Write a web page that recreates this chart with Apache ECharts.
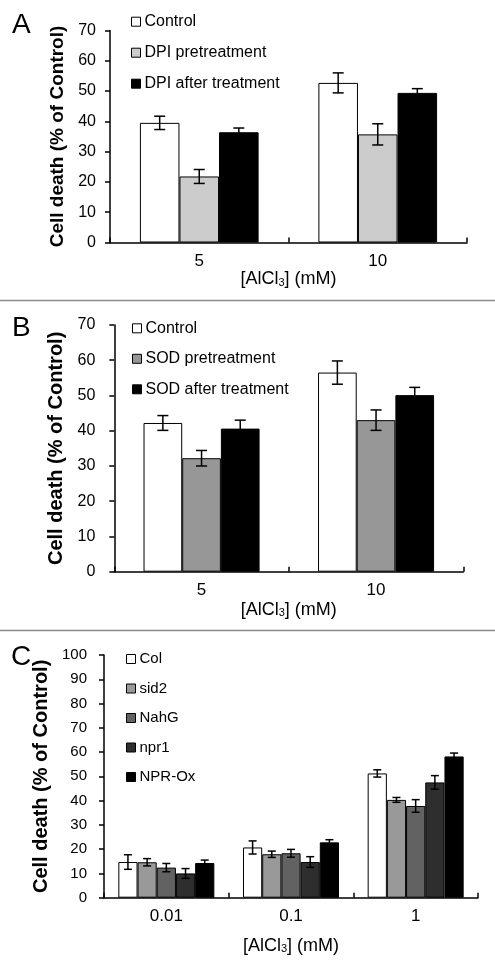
<!DOCTYPE html>
<html>
<head>
<meta charset="utf-8">
<script src="https://cdn.jsdelivr.net/npm/echarts@6/dist/echarts.min.js"></script>
<style>html,body{margin:0;padding:0;background:#fff;}#c{width:495px;height:973px;}</style>
</head>
<body>
<div id="c"></div>
<script>
// ---- Panel A data ----
const catsA = ['5', '10'];
const namesA = ['Control', 'DPI pretreatment', 'DPI after treatment'];
const aControl = [39.5, 52.7];
const aControlErr = [2.2, 3.3];
const aPre = [21.8, 35.7];
const aPreErr = [2.3, 3.5];
const aAfter = [36.4, 49.4];
const aAfterErr = [1.4, 1.4];

// ---- Panel B data ----
const catsB = ['5', '10'];
const namesB = ['Control', 'SOD pretreatment', 'SOD after treatment'];
const bControl = [42.2, 56.5];
const bControlErr = [2.1, 3.3];
const bPre = [32.2, 43.0];
const bPreErr = [2.2, 2.9];
const bAfter = [40.6, 50.1];
const bAfterErr = [2.4, 2.2];

// ---- Panel C data ----
const catsC = ['0.01', '0.1', '1'];
const namesC = ['Col', 'sid2', 'NahG', 'npr1', 'NPR-Ox'];
const cCol = [14.7, 20.7, 51.2];
const cColErr = [3.0, 2.7, 1.5];
const cSid2 = [14.6, 17.9, 40.3];
const cSid2Err = [1.5, 1.3, 1.0];
const cNahG = [12.4, 18.3, 37.8];
const cNahGErr = [1.7, 1.6, 2.6];
const cNpr1 = [10.0, 14.7, 47.5];
const cNpr1Err = [2.0, 2.2, 2.8];
const cNprOx = [14.3, 22.8, 58.2];
const cNprOxErr = [1.2, 1.1, 1.4];

// tick values
const yMaxAB = 70, yMaxC = 100, yStep = 10;

const FONT = "'Liberation Sans', Arial, sans-serif";

function barSeries(idx, name, data, color, gap) {
  return {
    type: 'bar', name: name, xAxisIndex: idx, yAxisIndex: idx, data: data,
    barGap: '0%', barCategoryGap: gap,
    itemStyle: { color: color, borderColor: '#000', borderWidth: 1 },
    silent: true
  };
}
function errSeries(idx, vals, errs, si, n, gapFrac, cap) {
  return {
    type: 'custom', xAxisIndex: idx, yAxisIndex: idx, silent: true, z: 10,
    encode: { x: 0, y: 1 },
    data: vals.map((v, i) => [i, v, errs[i]]),
    renderItem: function (params, api) {
      const x = api.value(0), y = api.value(1), e = api.value(2);
      const band = api.size([1, 0])[0];
      const group = band * (1 - gapFrac);
      const bw = group / n;
      const c = api.coord([x, y]);
      const cx = c[0] - group / 2 + bw * (si + 0.5);
      const t = api.coord([x, y + e])[1];
      const b = api.coord([x, y - e])[1];
      const st = { stroke: '#000', lineWidth: 1.5 };
      return { type: 'group', children: [
        { type: 'line', shape: { x1: cx, y1: t, x2: cx, y2: b }, style: st },
        { type: 'line', shape: { x1: cx - cap / 2, y1: t, x2: cx + cap / 2, y2: t }, style: st },
        { type: 'line', shape: { x1: cx - cap / 2, y1: b, x2: cx + cap / 2, y2: b }, style: st }
      ]};
    }
  };
}
function xAx(idx, cats, nameGap) {
  return {
    type: 'category', gridIndex: idx, data: cats,
    axisLine: { lineStyle: { color: '#000', width: 1.5 } },
    axisTick: { show: true, inside: true, length: 5, alignWithLabel: false, lineStyle: { color: '#000', width: 1.5 } },
    axisLabel: { fontSize: 17, color: '#000', fontFamily: FONT, margin: 10 },
    name: '[AlCl{s|3}] (mM)', nameLocation: 'middle', nameGap: nameGap,
    nameTextStyle: { fontSize: 18, color: '#000', fontFamily: FONT, lineHeight: 18,
      rich: { s: { fontSize: 11, fontFamily: FONT, color: '#000', padding: [7, 0, 0, 0] } } }
  };
}
function yAx(idx, max, nameSize, nameGap, labelSize, margin) {
  return {
    type: 'value', gridIndex: idx, min: 0, max: max, interval: yStep,
    axisLine: { show: true, lineStyle: { color: '#000', width: 1.5 } },
    axisTick: { show: true, inside: false, length: 5, lineStyle: { color: '#000', width: 1.5 } },
    splitLine: { show: false },
    axisLabel: { fontSize: labelSize, color: '#000', fontFamily: FONT, margin: margin },
    name: 'Cell death (% of Control)', nameLocation: 'middle', nameGap: nameGap,
    nameTextStyle: { fontSize: nameSize, fontWeight: 'bold', color: '#000', fontFamily: FONT }
  };
}
function legendCfg(names, left, top, fontSize, gap) {
  return {
    data: names, orient: 'vertical', left: left, top: top, padding: 0,
    itemWidth: 9, itemHeight: 9, itemGap: gap, icon: 'rect',
    itemStyle: { borderColor: '#000', borderWidth: 1 },
    textStyle: { fontSize: fontSize, lineHeight: fontSize, color: '#000', fontFamily: FONT, padding: [0, 0, 0, -1] },
    selectedMode: false
  };
}

const gapAB = 0.335, gapC = 0.23;
const colorsA = ['#ffffff', '#cccccc', '#000000'];
const colorsB = ['#ffffff', '#979797', '#000000'];
const colorsC = ['#ffffff', '#999999', '#626262', '#2e2e2e', '#000000'];

const series = [];
[[aControl, aControlErr], [aPre, aPreErr], [aAfter, aAfterErr]].forEach((d, i) => {
  series.push(barSeries(0, namesA[i], d[0], colorsA[i], '33.5%'));
});
[[aControl, aControlErr], [aPre, aPreErr], [aAfter, aAfterErr]].forEach((d, i) => {
  series.push(errSeries(0, d[0], d[1], i, 3, gapAB, 11));
});
[[bControl, bControlErr], [bPre, bPreErr], [bAfter, bAfterErr]].forEach((d, i) => {
  series.push(barSeries(1, namesB[i], d[0], colorsB[i], '33.5%'));
});
[[bControl, bControlErr], [bPre, bPreErr], [bAfter, bAfterErr]].forEach((d, i) => {
  series.push(errSeries(1, d[0], d[1], i, 3, gapAB, 11));
});
const cData = [[cCol, cColErr], [cSid2, cSid2Err], [cNahG, cNahGErr], [cNpr1, cNpr1Err], [cNprOx, cNprOxErr]];
cData.forEach((d, i) => { series.push(barSeries(2, namesC[i], d[0], colorsC[i], '23%')); });
cData.forEach((d, i) => { series.push(errSeries(2, d[0], d[1], i, 5, gapC, 8)); });

const chart = echarts.init(document.getElementById('c'), null, { renderer: 'canvas' });
chart.setOption({
  animation: false,
  backgroundColor: '#fff',
  grid: [
    { left: 110, right: 28, top: 30.5, bottom: 730.5, outerBoundsMode: 'none' },
    { left: 114.3, right: 31.7, top: 325, bottom: 401.3, outerBoundsMode: 'none' },
    { left: 104, right: 17, top: 655, bottom: 75.3, outerBoundsMode: 'none' }
  ],
  xAxis: [xAx(0, catsA, 27), xAx(1, catsB, 29), xAx(2, catsC, 39)],
  yAxis: [yAx(0, yMaxAB, 19, 38, 16, 14), yAx(1, yMaxAB, 20, 42, 16, 19), yAx(2, yMaxC, 20, 37, 15, 17)],
  legend: [
    legendCfg(namesA, 131, 13.7, 16, 15),
    legendCfg(namesB, 132, 320.3, 16, 14.5),
    legendCfg(namesC, 126, 651.5, 15, 14.5)
  ],
  graphic: [
    { type: 'text', left: 12, top: 11, style: { text: 'A', font: '28px ' + FONT, fill: '#000' } },
    { type: 'text', left: 12, top: 314, style: { text: 'B', font: '28px ' + FONT, fill: '#000' } },
    { type: 'text', left: 11, top: 643, style: { text: 'C', font: '28px ' + FONT, fill: '#000' } },
    { type: 'line', shape: { x1: 0, y1: 300.5, x2: 495, y2: 300.5 }, style: { stroke: '#8a8a8a', lineWidth: 1.5 } },
    { type: 'line', shape: { x1: 0, y1: 630.5, x2: 495, y2: 630.5 }, style: { stroke: '#8a8a8a', lineWidth: 1.5 } }
  ],
  series: series
});
</script>
</body>
</html>
